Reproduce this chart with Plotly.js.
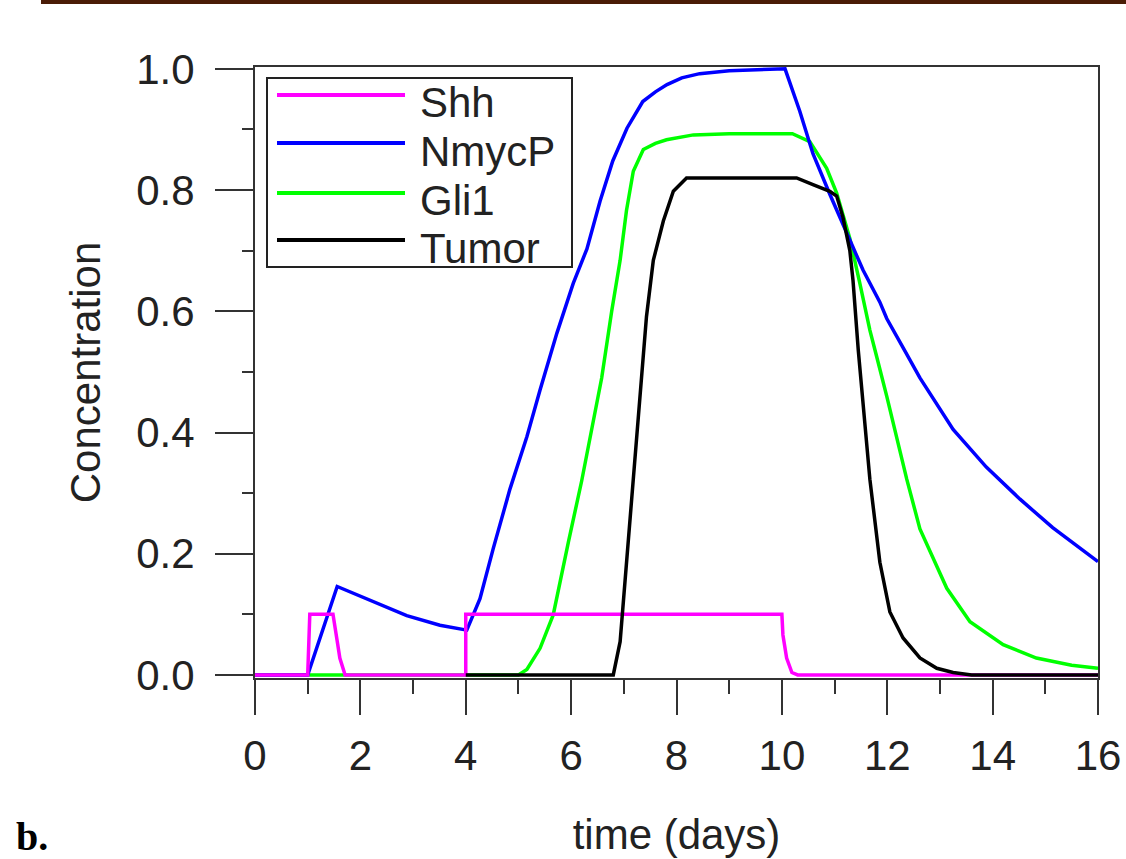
<!DOCTYPE html>
<html>
<head>
<meta charset="utf-8">
<script src="https://cdn.plot.ly/plotly-3.0.1.min.js"></script>
<style>
  html, body { margin: 0; padding: 0; background: #ffffff; }
  #chart { width: 1126px; height: 859px; }
</style>
</head>
<body>
<div id="chart"></div>
<script>
// ---- Data ----
const seriesNames = ["Shh", "NmycP", "Gli1", "Tumor"];
const seriesColors = ["#ff00ff", "#0000ff", "#00ff00", "#000000"];

const timeShh = [0, 1.0, 1.04, 1.48, 1.56, 1.61, 1.71, 4.0, 4.0, 10.0, 10.02, 10.09, 10.19, 10.3, 16.0];
const shh     = [0, 0, 0.1, 0.1, 0.056, 0.028, 0, 0, 0.1, 0.1, 0.066, 0.028, 0.004, 0, 0];

const timeNmyc = [0, 1.0, 1.56, 2.24, 2.88, 3.51, 4.02, 4.27, 4.52, 4.84, 5.16, 5.41, 5.73, 6.04, 6.30, 6.55, 6.79, 7.06, 7.36, 7.6, 7.82, 8.1, 8.44, 9.0, 9.53, 10.06, 10.34, 10.59, 10.91, 11.23, 11.54, 11.86, 11.99, 12.3, 12.62, 13.25, 13.88, 14.52, 15.14, 16.0];
const nmycP    = [0, 0, 0.146, 0.121, 0.098, 0.082, 0.074, 0.126, 0.208, 0.307, 0.393, 0.47, 0.564, 0.646, 0.703, 0.782, 0.848, 0.902, 0.946, 0.962, 0.974, 0.985, 0.992, 0.997, 0.999, 1.0, 0.93, 0.86, 0.793, 0.728, 0.668, 0.615, 0.588, 0.54, 0.49, 0.405, 0.343, 0.29, 0.243, 0.187];

const timeGli = [0, 5.0, 5.16, 5.41, 5.66, 5.8, 5.95, 6.2, 6.4, 6.58, 6.77, 6.93, 7.05, 7.18, 7.37, 7.6, 7.81, 8.32, 9.0, 10.2, 10.53, 10.85, 11.04, 11.29, 11.48, 11.67, 11.8, 11.99, 12.37, 12.62, 13.13, 13.57, 14.2, 14.83, 15.5, 16.0];
const gli1    = [0, 0, 0.009, 0.044, 0.099, 0.16, 0.22, 0.32, 0.41, 0.49, 0.6, 0.684, 0.766, 0.831, 0.867, 0.877, 0.883, 0.891, 0.893, 0.893, 0.880, 0.836, 0.795, 0.72, 0.646, 0.569, 0.525, 0.46, 0.323, 0.241, 0.143, 0.088, 0.05, 0.028, 0.016, 0.011];

const timeTumor = [4.0, 6.8, 6.93, 7.05, 7.18, 7.31, 7.43, 7.56, 7.75, 7.94, 8.19, 9.0, 10.28, 10.59, 10.91, 11.04, 11.16, 11.29, 11.35, 11.45, 11.67, 11.86, 12.05, 12.3, 12.62, 12.94, 13.25, 13.6, 16.0];
const tumor     = [0, 0, 0.055, 0.181, 0.318, 0.454, 0.591, 0.684, 0.749, 0.798, 0.82, 0.82, 0.82, 0.809, 0.798, 0.79, 0.755, 0.70, 0.651, 0.536, 0.323, 0.186, 0.104, 0.061, 0.028, 0.011, 0.004, 0, 0];

const xTickVals = [0, 2, 4, 6, 8, 10, 12, 14, 16];
const yTickVals = [0, 0.2, 0.4, 0.6, 0.8, 1.0];
const xTitle = "time (days)";
const yTitle = "Concentration";
const panelLabel = "b.";

// ---- Plot ----
const FONT = "Liberation Sans, Arial, sans-serif";
const TXT = "#222222";
const AX = "#333333";
const LW = 3.5;

function line(x, y, i) {
  return { x: x, y: y, type: "scatter", mode: "lines", name: seriesNames[i],
           line: { color: seriesColors[i], width: LW }, showlegend: false, hoverinfo: "x+y" };
}

const traces = [
  line(timeGli, gli1, 2),
  line(timeNmyc, nmycP, 1),
  line(timeShh, shh, 0),
  line(timeTumor, tumor, 3)
];

// plot area in pixels: left 255, right 1098, top 67, bottom 678
const L = 255, R = 1098, T = 67, B = 678;
const px = v => (v - L) / (R - L);
const py = v => (B - v) / (B - T);

const shapes = [
  // dark bar at the very top of the figure
  { type: "rect", xref: "paper", yref: "paper", x0: px(41), x1: px(1126), y0: py(4), y1: py(0),
    fillcolor: "#4a1c06", line: { width: 0 }, layer: "above" },
  // legend box
  { type: "rect", xref: "paper", yref: "paper", x0: px(267), x1: px(572), y0: py(267), y1: py(78),
    fillcolor: "#ffffff", line: { color: TXT, width: 2 }, layer: "above" }
];
const legendLineY = [95, 143, 193, 240];
const legendTextY = [102, 151, 200, 248];
const annotations = [];
seriesNames.forEach((n, i) => {
  shapes.push({ type: "line", xref: "paper", yref: "paper", x0: px(277), x1: px(405),
    y0: py(legendLineY[i]), y1: py(legendLineY[i]), line: { color: seriesColors[i], width: 4 }, layer: "above" });
  annotations.push({ xref: "paper", yref: "paper", x: px(418), y: py(legendTextY[i]), xanchor: "left", yanchor: "middle",
    text: n, showarrow: false, font: { family: FONT, size: 42, color: TXT } });
});
annotations.push({ xref: "paper", yref: "paper", x: px(14), y: py(836), xanchor: "left", yanchor: "middle",
  text: "<b>" + panelLabel + "</b>", showarrow: false,
  font: { family: "Liberation Serif, Times New Roman, serif", size: 40, color: "#000000" } });

const layout = {
  width: 1126, height: 859,
  margin: { l: L, r: 1126 - R, t: T, b: 859 - B, pad: 0 },
  paper_bgcolor: "#ffffff", plot_bgcolor: "#ffffff",
  showlegend: false,
  font: { family: FONT, size: 42, color: TXT },
  xaxis: {
    range: [0, 16], tickvals: xTickVals, ticktext: xTickVals.map(String),
    ticks: "outside", ticklen: 35, tickwidth: 2, tickcolor: AX,
    minor: { dtick: 1, tick0: 0, ticks: "outside", ticklen: 14, tickwidth: 2, tickcolor: AX, showgrid: false },
    showline: true, linecolor: AX, linewidth: 2, mirror: true,
    showgrid: false, zeroline: false, ticklabelstandoff: 5,
    tickfont: { family: FONT, size: 42, color: TXT },
    title: { text: xTitle, font: { family: FONT, size: 42, color: TXT }, standoff: 41 }
  },
  yaxis: {
    range: [-0.005, 1.003], tickvals: yTickVals, ticktext: yTickVals.map(v => v.toFixed(1)),
    ticks: "outside", ticklen: 38, tickwidth: 2, tickcolor: AX,
    minor: { dtick: 0.1, tick0: 0, ticks: "outside", ticklen: 11, tickwidth: 2, tickcolor: AX, showgrid: false },
    showline: true, linecolor: AX, linewidth: 2, mirror: true,
    showgrid: false, zeroline: false, ticklabelstandoff: 12,
    tickfont: { family: FONT, size: 42, color: TXT },
    title: { text: yTitle, font: { family: FONT, size: 42, color: TXT }, standoff: 23 }
  },
  shapes: shapes,
  annotations: annotations
};

Plotly.newPlot("chart", traces, layout, { displayModeBar: false, staticPlot: true });
</script>
</body>
</html>
